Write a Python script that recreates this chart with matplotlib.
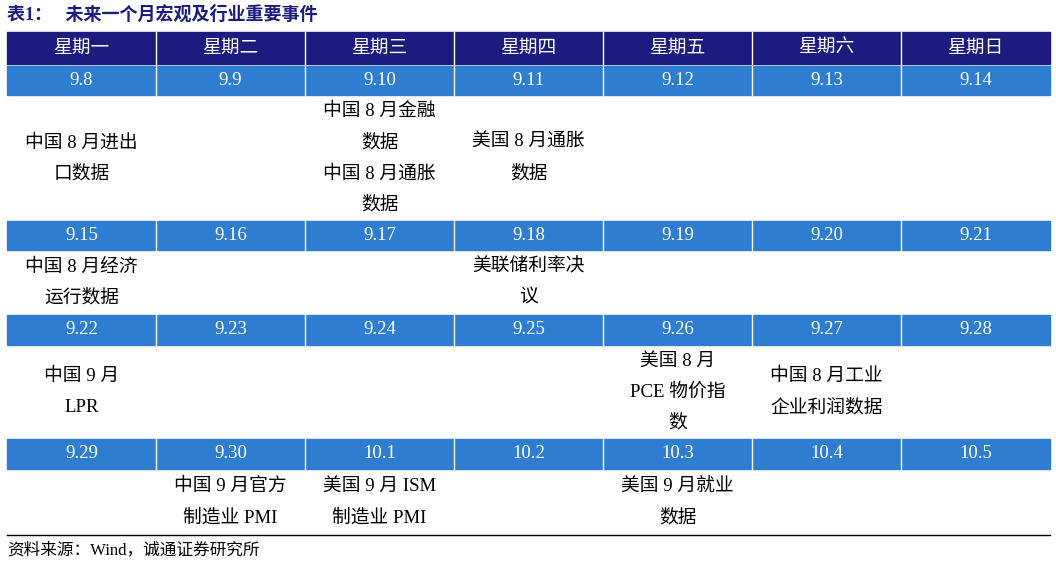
import matplotlib.pyplot as plt
from matplotlib.patches import Rectangle

plt.rcParams['font.family'] = ['Liberation Serif', 'Noto Sans CJK SC', 'DejaVu Sans']

title = "表1：   未来一个月宏观及行业重要事件"
source = "资料来源：Wind，诚通证券研究所"
weekdays = ["星期一", "星期二", "星期三", "星期四", "星期五", "星期六", "星期日"]
dates = [
    ["9.8", "9.9", "9.10", "9.11", "9.12", "9.13", "9.14"],
    ["9.15", "9.16", "9.17", "9.18", "9.19", "9.20", "9.21"],
    ["9.22", "9.23", "9.24", "9.25", "9.26", "9.27", "9.28"],
    ["9.29", "9.30", "10.1", "10.2", "10.3", "10.4", "10.5"],
]
events = [
    {0: ["中国 8 月进出", "口数据"], 2: ["中国 8 月金融", "数据", "中国 8 月通胀", "数据"], 3: ["美国 8 月通胀", "数据"]},
    {0: ["中国 8 月经济", "运行数据"], 3: ["美联储利率决", "议"]},
    {0: ["中国 9 月", "LPR"], 4: ["美国 8 月", "PCE 物价指", "数"], 5: ["中国 8 月工业", "企业利润数据"]},
    {1: ["中国 9 月官方", "制造业 PMI"], 2: ["美国 9 月 ISM", "制造业 PMI"], 4: ["美国 9 月就业", "数据"]},
]

# layout in pixels
W, H = 1056, 565
x0, x1 = 7, 1050
cw = (x1 - x0) / 7
header = (32, 64)
date_rows = [(66, 95), (221, 250), (315, 345), (439, 469)]
row_bottoms = [221, 315, 439, 535]
line_h = 31

fig = plt.figure(figsize=(W / 100, H / 100), dpi=100)
ax = fig.add_axes([0, 0, 1, 1])
ax.set_xlim(0, W)
ax.set_ylim(H, 0)
ax.axis('off')

navy = "#1c1c80"
blue = "#2e7dd0"

ax.text(x0, 15, title, color=navy, fontsize=13, weight='bold', va='center', ha='left')

ax.add_patch(Rectangle((x0, header[0]), x1 - x0, header[1] - header[0], color=navy))
for i, d in enumerate(weekdays):
    ax.text(x0 + cw * (i + 0.5), sum(header) / 2, d, color='white', fontsize=13.5, ha='center', va='center')

for r, (ya, yb) in enumerate(date_rows):
    ax.add_patch(Rectangle((x0, ya), x1 - x0, yb - ya, color=blue))
    for i, d in enumerate(dates[r]):
        ax.text(x0 + cw * (i + 0.5), (ya + yb) / 2, d, color='white', fontsize=13.5, ha='center', va='center')
    top, bot = yb, row_bottoms[r]
    for c, lines in events[r].items():
        n = len(lines)
        ymid = (top + bot) / 2
        for k, s in enumerate(lines):
            ax.text(x0 + cw * (c + 0.5), ymid + (k - (n - 1) / 2) * line_h, s,
                    color='black', fontsize=13.5, ha='center', va='center')

# white column separators in coloured rows
for i in range(1, 7):
    x = x0 + cw * i
    for ya, yb in [header] + date_rows:
        ax.plot([x, x], [ya, yb], color='white', lw=1)

ax.plot([x0, x1], [535, 535], color='black', lw=1)
ax.text(x0, 550, source, color='black', fontsize=12, ha='left', va='center')

fig.savefig("out.png", dpi=100)
